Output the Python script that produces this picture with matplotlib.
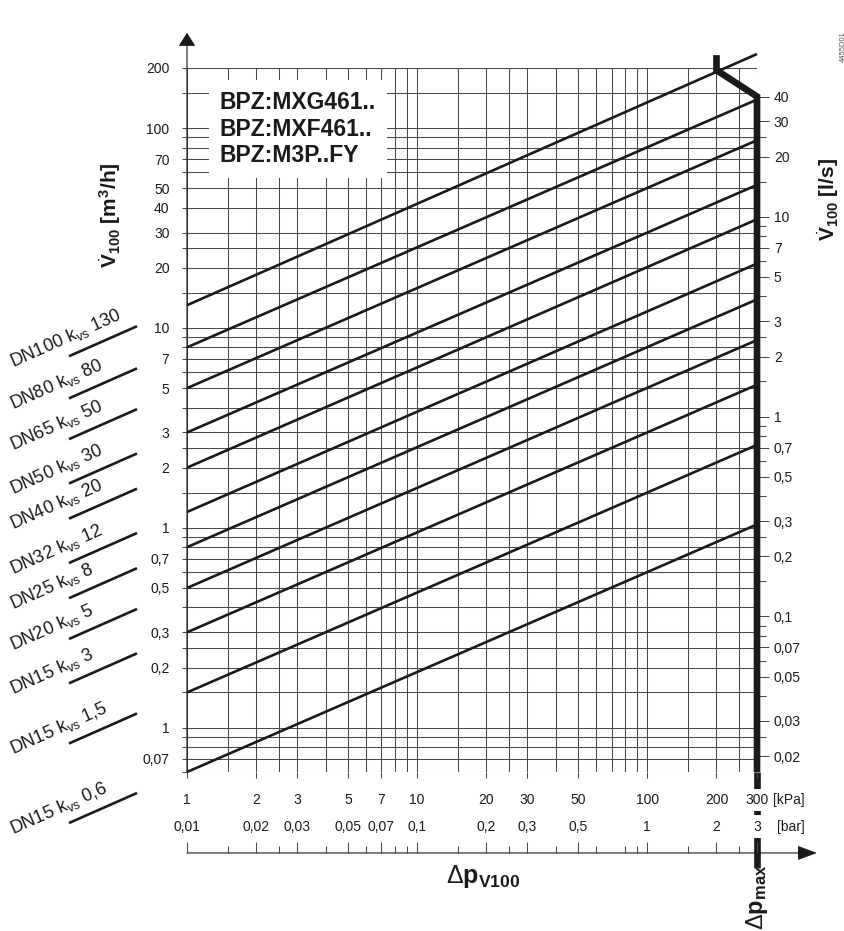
import matplotlib
matplotlib.use("Agg")
import matplotlib.pyplot as plt
from matplotlib.lines import Line2D
from matplotlib.ticker import NullFormatter, NullLocator
from matplotlib.transforms import blended_transform_factory

plt.rcParams['font.family'] = 'Liberation Sans'
plt.rcParams['mathtext.fontset'] = 'custom'
plt.rcParams['mathtext.rm'] = 'Liberation Sans'
plt.rcParams['mathtext.it'] = 'Liberation Sans:italic'
plt.rcParams['mathtext.bf'] = 'Liberation Sans:bold'

# valve curves, flow [m3/h] read at 1 kPa and at 300 kPa
dn_names = ['DN100', 'DN80', 'DN65', 'DN50', 'DN40', 'DN32', 'DN25', 'DN20', 'DN15', 'DN15', 'DN15']
kvs_labels = ['130', '80', '50', '30', '20', '12', '8', '5', '3', '1,5', '0,6']
flow_at_1kpa = [13, 8, 5, 3, 2, 1.2, 0.8, 0.5, 0.3, 0.15, 0.06]
flow_at_300kpa = [235, 139, 87, 52, 35, 21, 13.9, 8.7, 5.2, 2.6, 1.04]
dp_ends = [1, 300]

# delta p max limit line
dpmax_kpa = [200, 200, 300, 300]
dpmax_flow = [232, 195, 144, 0.06]

products = ['BPZ:MXG461..', 'BPZ:MXF461..', 'BPZ:M3P..FY']

# left axis [m3/h]
flow_ticks = [200, 100, 70, 50, 40, 30, 20, 10, 7, 5, 3, 2, 1, 0.7, 0.5, 0.3, 0.2, 0.1, 0.07]
flow_ticklabels = ['200', '100', '70', '50', '40', '30', '20', '10', '7', '5', '3', '2', '1',
                   '0,7', '0,5', '0,3', '0,2', '1', '0,07']
flow_grid = [0.06, 0.07, 0.08, 0.09, 0.1, 0.15, 0.2, 0.25, 0.3, 0.4, 0.5, 0.6, 0.7, 0.8, 0.9,
             1, 1.5, 2, 2.5, 3, 4, 5, 6, 7, 8, 9, 10, 15, 20, 25, 30, 40, 50, 60, 70, 80, 90,
             100, 150, 200]
flow_minor = [v for v in flow_grid if v not in flow_ticks]

# bottom axis [kPa] and [bar]
dp_grid = [1, 1.5, 2, 2.5, 3, 4, 5, 6, 7, 8, 9, 10, 15, 20, 25, 30, 40, 50, 60, 70, 80, 90,
           100, 150, 200, 250, 300]
kpa_ticks = [1, 2, 3, 5, 7, 10, 20, 30, 50, 100, 200, 300]
kpa_labels = ['1', '2', '3', '5', '7', '10', '20', '30', '50', '100', '200', '300']
bar_ticks = [0.01, 0.02, 0.03, 0.05, 0.07, 0.1, 0.2, 0.3, 0.5, 1, 2, 3]
bar_labels = ['0,01', '0,02', '0,03', '0,05', '0,07', '0,1', '0,2', '0,3', '0,5', '1', '2', '3']
bar_minor = [0.015, 0.025, 0.04, 0.06, 0.08, 0.09, 0.15, 0.25, 0.4, 0.6, 0.8, 0.9, 1.5, 2.5]

# right axis [l/s]
ls_ticks = [40, 30, 20, 10, 7, 5, 3, 2, 1, 0.7, 0.5, 0.3, 0.2, 0.1, 0.07, 0.05, 0.03, 0.02]
ls_labels = ['40', '30', '20', '10', '7', '5', '3', '2', '1', '0,7', '0,5', '0,3', '0,2',
             '0,1', '0,07', '0,05', '0,03', '0,02']
ls_minor = [25, 15, 9, 8, 6, 4, 2.5, 1.5, 0.9, 0.8, 0.6, 0.4, 0.25, 0.15, 0.09, 0.08, 0.06,
            0.04, 0.025]

ink = '#1a1a1a'
grid_col = '#4a4a4a'

fig = plt.figure(figsize=(8.45, 9.31), dpi=100)
ax = fig.add_axes([187 / 845, 1 - 772 / 931, 570 / 845, 704 / 931])
ax.set_xscale('log')
ax.set_yscale('log')
ax.set_xlim(1, 300)
ax.set_ylim(0.06, 200)
for s in ax.spines.values():
    s.set_visible(False)

# grid
ax.vlines(dp_grid, 0.06, 200, colors=grid_col, lw=0.75, zorder=1)
ax.hlines(flow_grid, 1, 300, colors=grid_col, lw=0.75, zorder=1)

# axis arrows
ax.annotate('', xy=(0, 1.05), xytext=(0, 0), xycoords='axes fraction',
            arrowprops=dict(arrowstyle='-|>,head_length=0.55,head_width=0.35', color=ink,
                            lw=0.8, shrinkA=0, shrinkB=0, mutation_scale=15))
ax.annotate('', xy=(1.105, -0.115), xytext=(0, -0.115), xycoords='axes fraction',
            arrowprops=dict(arrowstyle='-|>,head_length=0.8,head_width=0.3', color=ink,
                            lw=0.8, shrinkA=0, shrinkB=0, mutation_scale=15))

# kvs lines
for v1, v300 in zip(flow_at_1kpa, flow_at_300kpa):
    ax.plot(dp_ends, [v1, v300], color=ink, lw=1.9, solid_capstyle='butt',
            clip_on=False, zorder=2)

# delta p max
ax.plot(dpmax_kpa, dpmax_flow, color=ink, lw=4.8, solid_joinstyle='miter',
        solid_capstyle='butt', clip_on=False, zorder=2.2)
blend = blended_transform_factory(ax.transData, ax.transAxes)
ax.plot([dpmax_kpa[-1], dpmax_kpa[-1]], [0, -0.136], transform=blend, color=ink, lw=4.8,
        solid_capstyle='butt', clip_on=False, zorder=2.2)
ax.text(dpmax_kpa[-1], -0.178, r'$\Delta\mathbf{p}_{\mathbf{max}}$', transform=blend,
        rotation=90, ha='center', va='center', fontsize=17, color=ink)

# product box
ax.text(1.39, 153, '\n'.join(products), ha='left', va='top', fontsize=16.5,
        fontweight='bold', linespacing=1.2, color=ink, zorder=3,
        bbox=dict(facecolor='white', edgecolor='none', pad=8))

# left ticks
ax.set_yticks(flow_ticks, labels=flow_ticklabels)
ax.set_yticks(flow_minor, minor=True)
ax.yaxis.set_minor_formatter(NullFormatter())
ax.tick_params(axis='y', which='both', length=3.6, width=0.75, color=grid_col,
               labelsize=10, pad=9, labelcolor=ink)

# bottom kPa ticks
ax.set_xticks(kpa_ticks, labels=kpa_labels)
ax.xaxis.set_minor_locator(NullLocator())
ax.tick_params(axis='x', which='major', length=4.3, width=0.75, color=grid_col,
               labelsize=10, pad=11, labelcolor=ink)
ax.xaxis.set_zorder(2.5)
ax.xaxis.get_major_ticks()[-1].label1.set_bbox(dict(facecolor='white', edgecolor='none', pad=3))
ax.text(1.028, -0.04, '[kPa]', transform=ax.transAxes, ha='left', va='center',
        fontsize=10, color=ink)

# bar scale
secx = ax.secondary_xaxis(-0.115, functions=(lambda p: p / 100, lambda b: b * 100))
secx.set_alignment('top')
secx.set_xticks(bar_ticks, labels=bar_labels)
secx.set_xticks(bar_minor, minor=True)
secx.xaxis.set_minor_formatter(NullFormatter())
secx.tick_params(axis='x', which='major', direction='out', length=7.9, width=0.75,
                 color=grid_col, labelsize=10, pad=6, labelcolor=ink)
secx.tick_params(axis='x', which='minor', direction='out', length=5, width=0.75,
                 color=grid_col)
for s in secx.spines.values():
    s.set_visible(False)
secx.set_zorder(3)
secx.xaxis.get_major_ticks()[-1].label2.set_bbox(dict(facecolor='white', edgecolor='none', pad=3))
ax.text(1.035, -0.078, '[bar]', transform=ax.transAxes, ha='left', va='center',
        fontsize=10, color=ink)

# l/s scale
secy = ax.secondary_yaxis('right', functions=(lambda q: q / 3.6, lambda q: q * 3.6))
secy.set_yticks(ls_ticks, labels=ls_labels)
secy.set_yticks(ls_minor, minor=True)
secy.yaxis.set_minor_formatter(NullFormatter())
secy.tick_params(axis='y', which='major', length=8.6, width=0.75, color=grid_col,
                 labelsize=10, pad=3.5, labelcolor=ink)
secy.tick_params(axis='y', which='minor', length=6.5, width=0.75, color=grid_col)
for s in secy.spines.values():
    s.set_visible(False)

# axis titles
fig.text(110 / 845, 1 - 215 / 931, r'$\dot{\mathbf{V}}_{\mathbf{100}}$ [m$^{\mathbf{3}}$/h]',
         rotation=90, ha='center', va='center', fontsize=15, fontweight='bold', color=ink)
fig.text(828 / 845, 1 - 200 / 931, r'$\dot{\mathbf{V}}_{\mathbf{100}}$ [l/s]',
         rotation=90, ha='center', va='center', fontsize=15, fontweight='bold', color=ink)
fig.text(483 / 845, 1 - 877 / 931, r'$\Delta\mathbf{p}_{\mathbf{V100}}$',
         ha='center', va='center', fontsize=18, color=ink)
fig.text(843 / 845, 1 - 47 / 931, '4455D01', rotation=90, ha='center', va='center',
         fontsize=5.5, color='#555555')

# DN legend, placed off the start of each curve
to_fig = fig.transFigure.inverted()
for name, kvs, v1 in zip(dn_names, kvs_labels, flow_at_1kpa):
    x0, y0 = ax.transData.transform((dp_ends[0], v1))
    (ax_, ay_), (bx_, by_) = to_fig.transform([(x0 - 118, y0 - 51), (x0 - 50, y0 - 21)])
    fig.add_artist(Line2D([ax_, bx_], [ay_, by_], color=ink, lw=1.9,
                          solid_capstyle='butt', transform=fig.transFigure))
    tx, ty = to_fig.transform((x0 - 174, y0 - 62))
    fig.text(tx, ty, name + r' k$_{\mathrm{vs}}$ ' + kvs, rotation=24,
             rotation_mode='anchor', ha='left', va='baseline', fontsize=13, color=ink)

fig.savefig('out.png', dpi=100, facecolor='white')
